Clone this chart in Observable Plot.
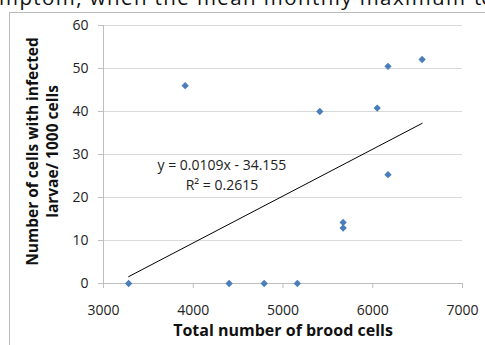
<!DOCTYPE html>
<html><head><meta charset="utf-8">
<script src="https://cdn.jsdelivr.net/npm/d3@7"></script>
<script src="https://cdn.jsdelivr.net/npm/@observablehq/plot@0.6"></script>
<style>
html,body{margin:0;padding:0;background:#fff;}
body{width:485px;height:345px;overflow:hidden;position:relative;font-family:"Open Sans",sans-serif;}
#top{position:absolute;left:0;top:0;}
#frame{position:absolute;left:9px;top:12px;width:520px;height:400px;border-left:1px solid #bbb;border-top:1px solid #bbb;}
#chart{position:absolute;left:0;top:0;}
</style>
</head><body>
<svg id="top" width="485" height="14">
  <text x="-1" y="5" font-family="Open Sans" font-size="20.5" fill="#111" textLength="466" lengthAdjust="spacing">mptom, when the mean monthly maximum</text>
  <text x="474" y="5" font-family="Open Sans" font-size="20.5" fill="#111">temperature</text>
</svg>
<div id="frame"></div>
<div id="chart"></div>
<script>
const brood    = [3280, 4400, 4790, 5160, 3910, 5410, 5670, 5670, 6170, 6550, 6050, 6170];
const infected = [0, 0, 0, 0, 46.0, 40.0, 14.2, 12.9, 50.5, 52.1, 40.8, 25.3];
const xTicks = [3000, 4000, 5000, 6000, 7000];
const yTicks = [0, 10, 20, 30, 40, 50, 60];
const slope = 0.0109, intercept = -34.155;
const equationLines = ["y = 0.0109x - 34.155", "R² = 0.2615"];
const equationAt = {x: 4320, y: 25.5};
const xTitle = "Total number of brood cells";
const yTitleLines = ["Number of cells with infected", "larvae/ 1000 cells"];

const points = brood.map((b, i) => ({x: b, y: infected[i]}));
const xmin = d3.min(brood), xmax = d3.max(brood);
const trend = [xmin, xmax].map(x => ({x, y: slope * x + intercept}));

const chart = Plot.plot({
  width: 485, height: 345,
  marginLeft: 103, marginRight: 23, marginTop: 25, marginBottom: 62,
  x: {domain: [3000, 7000]},
  y: {domain: [0, 60]},
  style: {fontFamily: "Open Sans", fontSize: "14px", background: "transparent", color: "#222"},
  marks: [
    Plot.ruleY(yTicks.filter(d => d > 0), {stroke: "#d9d9d9", strokeWidth: 1}),
    Plot.ruleY([0], {stroke: "#bfbfbf"}),
    Plot.ruleX([3000], {stroke: "#bfbfbf"}),
    Plot.axisX({ticks: xTicks, tickSize: 5, tickPadding: 17, tickFormat: d => `${d}`, label: null, stroke: "#bfbfbf", fill: "#222"}),
    Plot.axisY({ticks: yTicks, tickSize: 5, tickPadding: 10, tickFormat: d => `${d}`, label: null, stroke: "#bfbfbf", fill: "#222"}),
    Plot.line(trend, {x: "x", y: "y", stroke: "#000", strokeWidth: 1}),
    Plot.dot(points, {x: "x", y: "y", symbol: "diamond2", r: 3.3, fill: "#4a7ebb", stroke: "none"}),
    Plot.text([equationLines.join("\n")], {x: () => equationAt.x, y: () => equationAt.y, fontSize: 14, lineHeight: 1.43, fill: "#222", textAnchor: "middle"}),
    Plot.text([xTitle], {frameAnchor: "bottom", dy: 52, fontSize: 16, fontWeight: "bold", fill: "#111"}),
    Plot.text([yTitleLines.join("\n")], {frameAnchor: "left", dx: -62, dy: -3, rotate: -90, fontSize: 15.5, fontWeight: "bold", lineHeight: 1.28, fill: "#111", textAnchor: "middle"})
  ]
});
document.getElementById("chart").appendChild(chart);
</script>
</body></html>
